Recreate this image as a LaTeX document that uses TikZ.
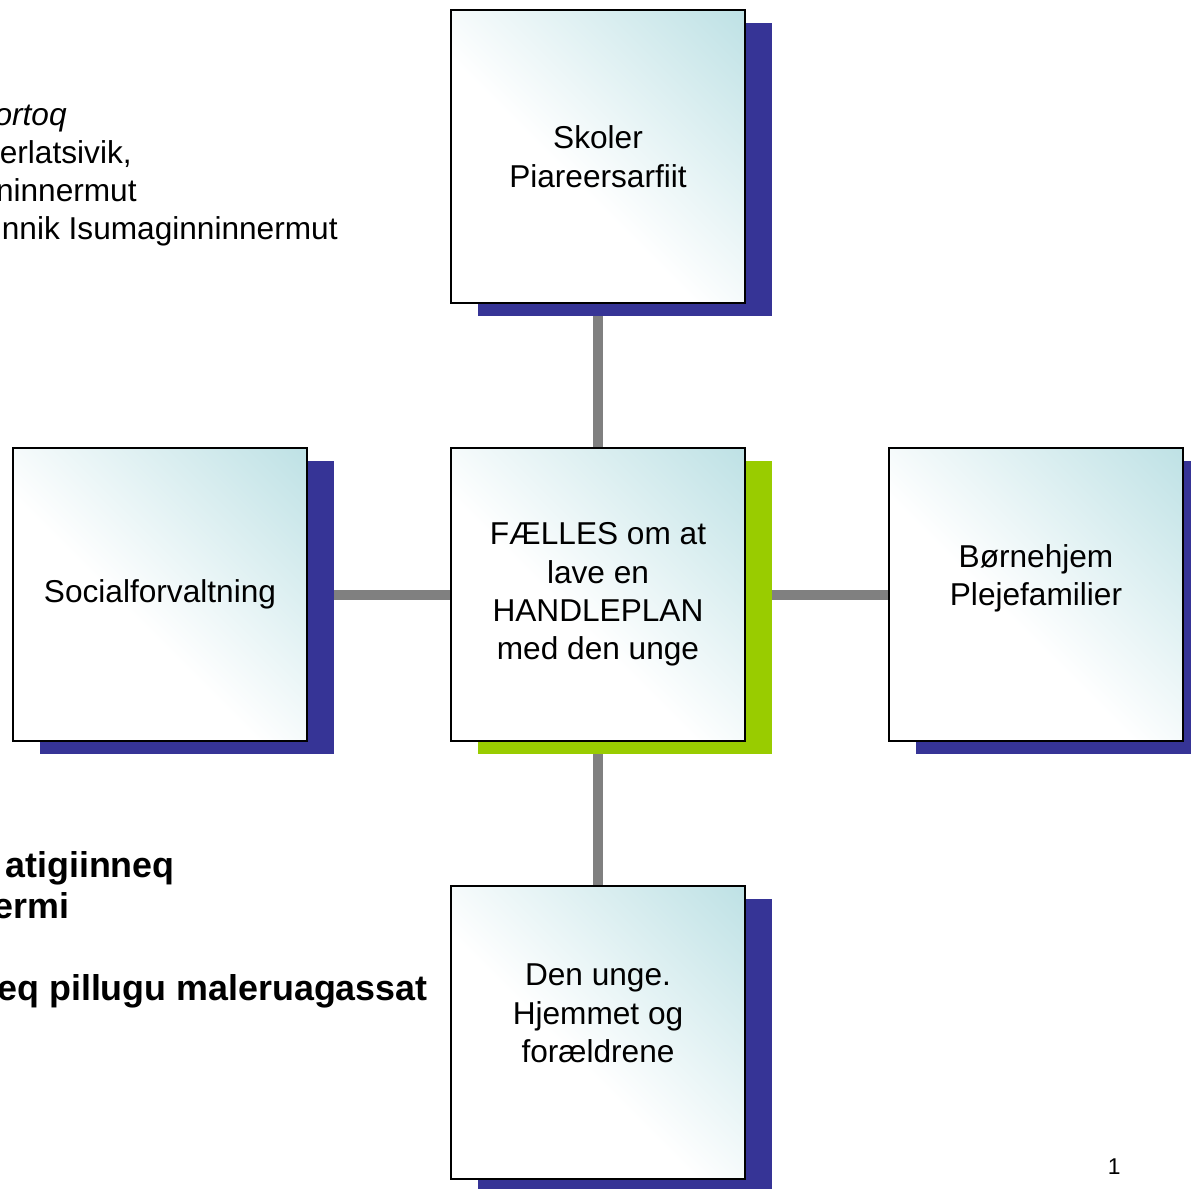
\documentclass[tikz,border=0pt]{standalone}
\usepackage{fontspec}
\setmainfont{Liberation Sans}
\usetikzlibrary{shadows, backgrounds}
\definecolor{boxteal}{RGB}{183,222,226}
\definecolor{shadownavy}{RGB}{54,52,150}
\definecolor{shadowgreen}{RGB}{153,204,0}
\definecolor{linegray}{RGB}{128,128,128}
\pgfdeclarehorizontalshading{boxfade}{100bp}{color(0bp)=(white); color(44bp)=(white); color(90bp)=(boxteal); color(100bp)=(boxteal)}
\tikzset{
    box/.style={draw, line width=1.1pt, shading=boxfade, shading angle=45,
        minimum width=5.88cm, minimum height=5.86cm, align=center, inner sep=0pt,
        font=\fontsize{18}{21.9}\selectfont},
    navybox/.style={box, general shadow={fill=shadownavy, shadow xshift=.54cm, shadow yshift=-.26cm}},
    greenbox/.style={box, general shadow={fill=shadowgreen, shadow xshift=.54cm, shadow yshift=-.26cm}},
    link/.style={linegray, line width=5.7pt},
    sidetext/.style={anchor=base east, inner sep=0pt, font=\fontsize{18}{21.9}\selectfont},
    boldtext/.style={anchor=base east, inner sep=0pt, font=\fontsize{20.4}{24}\selectfont\bfseries}
}
\begin{document}
\begin{tikzpicture}[x=0.02cm, y=-0.02cm]
            \useasboundingbox (0, 0) rectangle (1191, 1188);

            \node[greenbox] (n0) at (598, 594.5) {FÆLLES om at\\lave en\\HANDLEPLAN\\med den unge};
            \node[navybox] (n1) at (598, 156.5) {Skoler\\Piareersarfiit};
            \node[navybox] (n2) at (160, 594.5) {Socialforvaltning};
            \node[navybox] (n3) at (1036, 594.5) {Børnehjem\\Plejefamilier\\~};
            \node[navybox] (n4) at (598, 1032.5) {Den unge.\\Hjemmet og\\forældrene\\~};

            \begin{scope}[on background layer]
                \draw[link] (n0) -- (n1);
                \draw[link] (n0) -- (n2);
                \draw[link] (n0) -- (n3);
                \draw[link] (n0) -- (n4);
            \end{scope}

            \node[sidetext] (t1) at (67, 125) {\itshape ortoq};
            \node[sidetext] (t2) at (132, 163) {erlatsivik,};
            \node[sidetext] (t3) at (137, 201) {ninnermut};
            \node[sidetext] (t4) at (338, 239) {nnik Isumaginninnermut};

            \node[boldtext] (t5) at (175, 877) {atigiinneq};
            \node[boldtext] (t6) at (70, 918) {ermi};
            \node[boldtext] (t7) at (428, 1000) {eq pillugu maleruagassat};

            \node[anchor=base east, inner sep=0pt, font=\fontsize{13}{15}\selectfont] (p1) at (1121, 1174) {1};
    	\end{tikzpicture}
\end{document}
